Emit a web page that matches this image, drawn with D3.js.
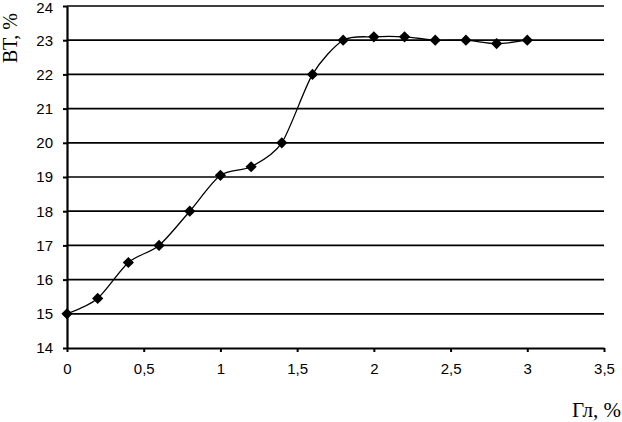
<!DOCTYPE html>
<html>
<head>
<meta charset="utf-8">
<script src="https://cdn.jsdelivr.net/npm/d3@7"></script>
<style>
  html, body { margin: 0; padding: 0; background: #fff; }
  svg { display: block; }
  .tick text { font-family: "Liberation Sans", Arial, sans-serif; font-size: 15px; fill: #000; }
  .title { font-family: "Liberation Serif", "Times New Roman", serif; font-size: 21px; fill: #000; }
</style>
</head>
<body>
<div id="chart"></div>
<script>
// data
const glValues = [0, 0.2, 0.4, 0.6, 0.8, 1.0, 1.2, 1.4, 1.6, 1.8, 2.0, 2.2, 2.4, 2.6, 2.8, 3.0];
const btValues = [15, 15.45, 16.5, 17, 18, 19.05, 19.3, 20, 22, 23, 23.1, 23.1, 23, 23, 22.9, 23];
const xTicks = [0, 0.5, 1, 1.5, 2, 2.5, 3, 3.5];
const yTicks = [14, 15, 16, 17, 18, 19, 20, 21, 22, 23, 24];

const width = 622;
const height = 422;
const margin = { top: 6, right: 18, bottom: 74, left: 67 };

const points = glValues.map((g, i) => ({ x: g, y: btValues[i] }));

const svg = d3.select('#chart')
    .append('svg')
    .attr('width', width)
    .attr('height', height);

const x = d3.scaleLinear()
    .domain([0, 3.5])
    .range([margin.left, width - margin.right]);

const y = d3.scaleLinear()
    .domain([14, 24])
    .range([height - margin.bottom, margin.top]);

const fmt = d => String(d).replace('.', ',');

// horizontal grid
svg.append('g')
    .selectAll('line')
    .data(yTicks.filter(d => d > 14))
    .join('line')
    .attr('x1', x(0))
    .attr('x2', x(3.5))
    .attr('y1', d => y(d))
    .attr('y2', d => y(d))
    .attr('stroke', '#000')
    .attr('stroke-width', 1.7);

// axes
const xAxis = svg.append('g')
    .attr('transform', `translate(0,${y(14)})`)
    .call(d3.axisBottom(x).tickValues(xTicks).tickFormat(fmt)
        .tickSizeInner(4).tickSizeOuter(0).tickPadding(11));
xAxis.select('.domain').attr('stroke-width', 2.2);
xAxis.selectAll('.tick line').attr('stroke-width', 2);

const yAxis = svg.append('g')
    .attr('transform', `translate(${x(0)},0)`)
    .call(d3.axisLeft(y).tickValues(yTicks).tickFormat(fmt)
        .tickSizeInner(4).tickSizeOuter(0).tickPadding(10));
yAxis.select('.domain').attr('stroke-width', 2.2);
yAxis.selectAll('.tick line').attr('stroke-width', 2);
// keep the top label inside the window
yAxis.selectAll('.tick text').filter(d => d === 24).attr('dy', '0.42em');

// smoothed line
const line = d3.line()
    .x(d => x(d.x))
    .y(d => y(d.y))
    .curve(d3.curveCardinal.tension(0.2));

svg.append('path')
    .datum(points)
    .attr('fill', 'none')
    .attr('stroke', '#000')
    .attr('stroke-width', 1.3)
    .attr('d', line);

// diamond markers
svg.append('g')
    .selectAll('path')
    .data(points)
    .join('path')
    .attr('transform', d => `translate(${x(d.x)},${y(d.y)})`)
    .attr('d', d3.symbol().type(d3.symbolDiamond2).size(80))
    .attr('fill', '#000');

// axis titles
svg.append('text')
    .attr('class', 'title')
    .attr('transform', 'translate(17,63) rotate(-90)')
    .style('font-size', '20px')
    .text('ВТ, %');

svg.append('text')
    .attr('class', 'title')
    .attr('x', 621)
    .attr('y', 417)
    .attr('text-anchor', 'end')
    .text('Гл, %');
</script>
</body>
</html>
